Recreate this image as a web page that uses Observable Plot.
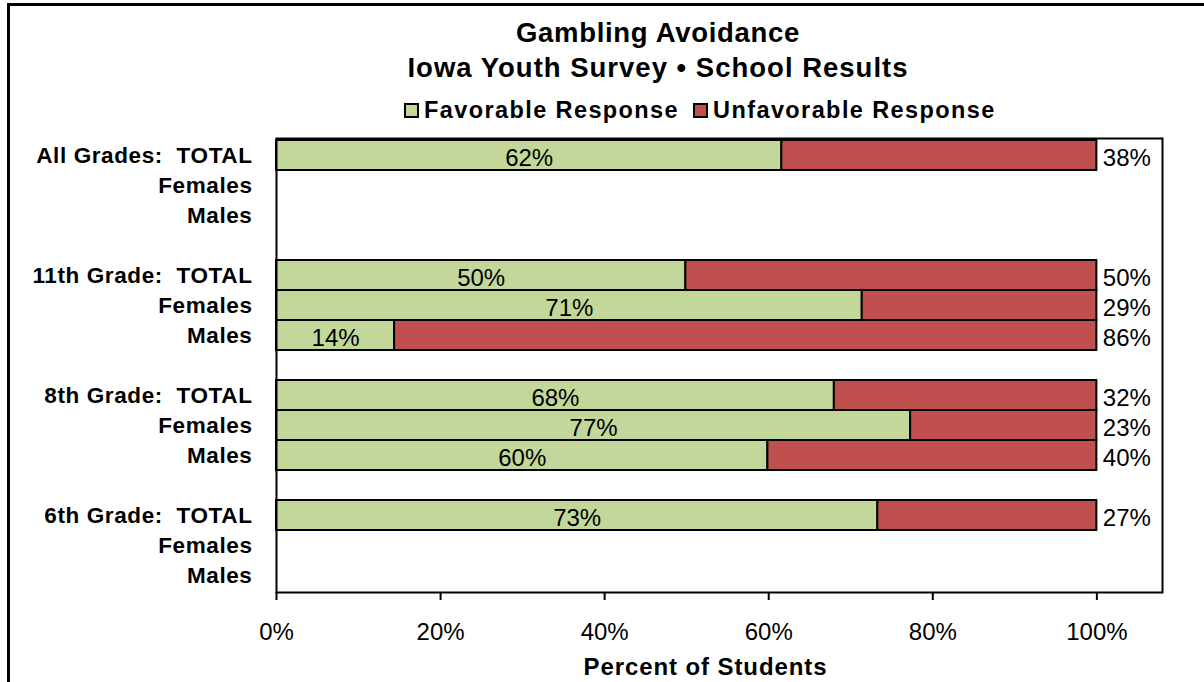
<!DOCTYPE html>
<html><head><meta charset="utf-8">
<script src="https://cdn.jsdelivr.net/npm/d3@7"></script>
<script src="https://cdn.jsdelivr.net/npm/@observablehq/plot@0.6"></script>
<style>
body{margin:0;background:#fff;font-family:"Liberation Sans",Arial,sans-serif;}
#wrap{position:relative;width:1204px;height:682px;overflow:hidden;background:#fff;}
#border{position:absolute;left:7px;top:3px;right:-10px;bottom:-10px;border:3px solid #000;}
.title{position:absolute;left:258px;width:800px;text-align:center;font-weight:bold;font-size:27.5px;letter-spacing:0.7px;color:#000;line-height:1;}
#legend{position:absolute;left:404px;top:97px;display:flex;align-items:center;font-weight:bold;font-size:23.5px;letter-spacing:1.4px;}
.sw{display:inline-block;width:11px;height:11px;border:2px solid #000;margin-right:5px;}
#chart{position:absolute;left:0;top:124px;}
#chart svg{overflow:visible;}
.ylab text{font-weight:bold;font-size:22.5px;letter-spacing:0.6px;}
.xlab text{font-size:24px;}
.axlab text{letter-spacing:0.9px;}
</style></head>
<body>
<div id="wrap">
<div id="border"></div>
<div class="title" id="t1" style="top:19px"></div>
<div class="title" id="t2" style="top:54px;letter-spacing:1px"></div>
<div id="legend"></div>
<div id="chart"></div>
</div>
<script>
const titleLines = ["Gambling Avoidance", "Iowa Youth Survey \u2022 School Results"];
const seriesNames = ["Favorable Response", "Unfavorable Response"];
const seriesColors = ["#C4D79B", "#C0504D"];
const groups = ["All Grades", "11th Grade", "8th Grade", "6th Grade"];
const subgroups = ["TOTAL", "Females", "Males"];
// favorable / unfavorable percentages, per group x subgroup (null = no data)
const favorable   = [61.6, null, null, 49.9, 71.4, 14.4, 68.0, 77.3, 59.9, 73.3, null, null];
const unfavorable = [38.4, null, null, 50.1, 28.6, 85.6, 32.0, 22.7, 40.1, 26.7, null, null];
const xTicks = [0, 20, 40, 60, 80, 100];
const xLabel = "Percent of Students";

document.getElementById("t1").textContent = titleLines[0];
document.getElementById("t2").textContent = titleLines[1];
const leg = document.getElementById("legend");
seriesNames.forEach((n, i) => {
  const sw = document.createElement("span"); sw.className = "sw"; sw.style.background = seriesColors[i];
  const t = document.createElement("span"); t.textContent = n; t.style.marginRight = "14px";
  leg.appendChild(sw); leg.appendChild(t);
});

// build band domain with blank spacer rows between groups
const domain = [], labels = new Map();
groups.forEach((g, gi) => {
  subgroups.forEach((s, si) => {
    const k = g + "|" + s;
    domain.push(k);
    labels.set(k, si === 0 ? g + ":  " + s : s);
  });
  if (gi < groups.length - 1) { const k = "gap" + gi; domain.push(k); labels.set(k, ""); }
});
const rows = [];
groups.forEach((g, gi) => subgroups.forEach((s, si) => {
  const i = gi * subgroups.length + si;
  if (favorable[i] != null) rows.push({key: g + "|" + s, fav: favorable[i], unf: unfavorable[i]});
}));

const chart = Plot.plot({
  width: 1204, height: 558,
  marginTop: 14, marginBottom: 90, marginLeft: 276, marginRight: 42,
  style: {fontFamily: '"Liberation Sans", Arial, sans-serif', color: "#000", background: "transparent"},
  x: {domain: [0, 108]},
  y: {domain, padding: 0},
  marks: [
    Plot.barX(rows, {y: "key", x1: 0, x2: "fav", fill: seriesColors[0], stroke: "#000", strokeWidth: 2}),
    Plot.barX(rows, {y: "key", x1: "fav", x2: d => d.fav + d.unf, fill: seriesColors[1], stroke: "#000", strokeWidth: 2}),
    Plot.text(rows, {y: "key", x: d => d.fav / 2, text: d => Math.round(d.fav) + "%", fontSize: 24, dy: 3, fill: "#000"}),
    Plot.text(rows, {y: "key", x: d => d.fav + d.unf, text: d => Math.round(d.unf) + "%", fontSize: 24, dy: 3, dx: 6, textAnchor: "start", fill: "#000"}),
    Plot.frame({stroke: "#000", strokeWidth: 2}),
    Plot.axisX({ticks: xTicks, tickFormat: d => d + "%", tickSize: 8, tickPadding: 22, strokeWidth: 2, className: "xlab", label: null}),
    Plot.axisY({tickSize: 0, tickPadding: 24, tickFormat: k => labels.get(k), className: "ylab", label: null}),
    Plot.text([xLabel], {frameAnchor: "bottom", text: d => d, dy: 82, dx: -14, fontSize: 24, fontWeight: "bold", fill: "#000", className: "axlab"})
  ]
});
document.getElementById("chart").appendChild(chart);
</script>
</body></html>
